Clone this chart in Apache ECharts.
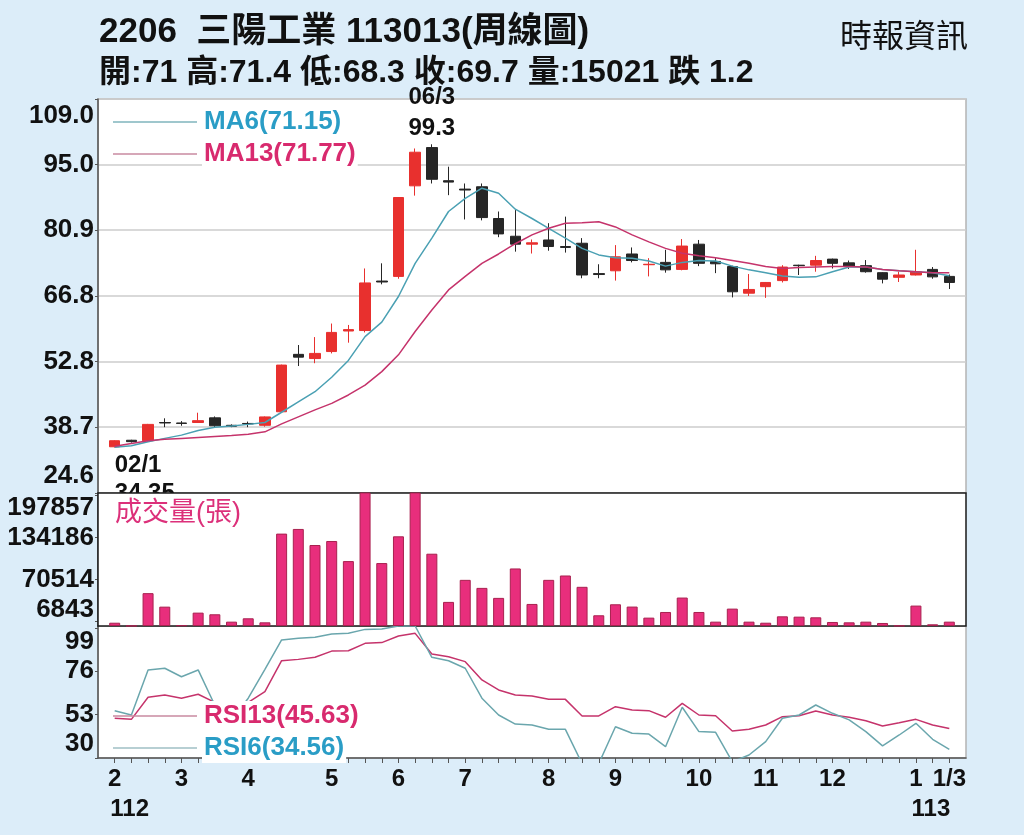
<!DOCTYPE html>
<html lang="zh-Hant">
<head>
    <meta charset="UTF-8">
    <title>2206 三陽工業 周線圖</title>
    <script src="https://cdn.jsdelivr.net/npm/echarts@6/dist/echarts.min.js"></script>
    <style>
        body, html {
            margin: 0;
            padding: 0;
            width: 100%;
            height: 100%;
            background: #dcedf9;
        }
        #main {
            width: 1024px;
            height: 835px;
        }
    </style>
</head>
<body>
<div id="main"></div>
<script>

    // 週別 (民國年/月/週)
    let weeks = [
        '112/02/1', '112/02/2', '112/02/3', '112/02/4',
        '112/03/1', '112/03/2', '112/03/3', '112/03/4',
        '112/04/1', '112/04/2', '112/04/3', '112/04/4', '112/04/5',
        '112/05/1', '112/05/2', '112/05/3', '112/05/4',
        '112/06/1', '112/06/2', '112/06/3', '112/06/4',
        '112/07/1', '112/07/2', '112/07/3', '112/07/4', '112/07/5',
        '112/08/1', '112/08/2', '112/08/3', '112/08/4',
        '112/09/1', '112/09/2', '112/09/3', '112/09/4', '112/09/5',
        '112/10/1', '112/10/2', '112/10/3', '112/10/4',
        '112/11/1', '112/11/2', '112/11/3', '112/11/4',
        '112/12/1', '112/12/2', '112/12/3', '112/12/4', '112/12/5',
        '113/01/1', '113/01/2', '113/01/3'
    ];

    // K線 開/收/低/高
    let opens = [34.5, 35.9, 35.8, 39.7, 39.6, 39.7, 40.7, 39.1, 39.5, 39.1,
        42.0, 54.3, 53.4, 54.9, 59.3, 59.4, 70.0, 71.0, 90.4, 98.6,
        91.5, 89.7, 90.2, 83.4, 79.6, 77.9, 78.8, 77.4, 78.1, 71.6,
        72.2, 75.8, 73.5, 74.0, 72.5, 77.9, 74.2, 73.1, 67.4, 68.8,
        70.1, 73.4, 73.4, 74.7, 73.9, 73.3, 71.8, 70.8, 71.3, 72.5, 71.0];
    let closes = [35.8, 35.6, 39.3, 39.6, 39.5, 40.1, 39.0, 38.9, 39.4, 40.9,
        52.0, 53.7, 54.5, 59.0, 59.6, 69.6, 69.8, 87.9, 97.6, 91.8,
        91.2, 89.5, 83.6, 80.1, 77.9, 78.2, 77.4, 77.2, 71.3, 71.4,
        75.2, 74.4, 73.6, 72.4, 77.5, 73.8, 73.7, 67.7, 68.2, 69.7,
        73.0, 73.3, 74.4, 73.8, 73.1, 72.0, 70.4, 71.3, 72.0, 70.9, 69.7];
    let lows = [34.35, 35.4, 35.6, 38.7, 39.0, 39.6, 38.6, 38.7, 38.7, 38.8,
        41.9, 51.8, 52.4, 54.5, 56.8, 59.0, 69.3, 70.5, 88.3, 90.9,
        88.4, 83.2, 83.0, 79.4, 76.3, 75.9, 76.5, 76.1, 70.6, 70.6,
        70.1, 74.0, 71.0, 71.8, 72.3, 73.2, 71.7, 66.5, 66.8, 66.4,
        69.7, 71.3, 72.0, 72.7, 72.6, 71.8, 69.5, 69.8, 71.2, 70.5, 68.3];
    let highs = [35.9, 36.0, 39.4, 40.6, 40.0, 41.8, 41.0, 39.3, 39.9, 41.0,
        52.1, 56.3, 58.0, 60.9, 60.6, 72.7, 73.8, 88.0, 98.4, 99.3,
        94.5, 90.9, 90.9, 84.9, 85.2, 78.9, 82.4, 83.8, 79.2, 73.6,
        77.7, 77.2, 74.9, 76.7, 79.0, 78.8, 74.9, 73.3, 71.5, 69.8,
        73.4, 73.5, 75.4, 74.8, 74.4, 74.5, 71.9, 72.0, 76.7, 73.0, 71.4];

    // 均線
    let ma6 = [34.4, 34.7, 35.6, 36.3, 37.0, 38.0, 38.7, 38.95, 39.3, 39.7,
        41.9, 44.1, 46.3, 49.4, 53.0, 58.1, 61.2, 66.7, 73.8, 79.2,
        84.9, 87.7, 89.9, 88.8, 85.4, 83.4, 81.3, 79.2, 77.0, 75.6,
        75.0, 74.9, 74.3, 73.2, 74.0, 74.4, 74.3, 73.2, 72.4, 71.8,
        71.1, 70.8, 70.9, 72.0, 73.0, 73.0, 72.5, 72.2, 72.0, 71.8, 71.15];
    let ma13 = [34.6, 35.2, 35.8, 36.1, 36.3, 36.5, 36.7, 36.9, 37.2, 37.7,
        39.4, 40.9, 42.4, 43.8, 45.6, 47.7, 50.6, 54.2, 59.2, 63.8,
        68.1, 71.0, 73.8, 75.8, 78.0, 79.9, 81.3, 82.4, 82.5, 82.7,
        81.6, 79.9, 78.4, 77.0, 75.95, 75.4, 75.0, 74.4, 73.8, 73.1,
        72.7, 72.9, 73.0, 73.1, 73.1, 73.0, 72.5, 72.2, 72.0, 71.8, 71.77];

    // 成交量(張)
    let volumes = [5000, 300, 49900, 29400, 1000, 20300, 17800, 6600, 11700, 5600,
        140300, 147400, 123000, 129100, 98600, 260000, 95600, 136200, 280000, 109800,
        36600, 70100, 57900, 42700, 87400, 33500, 70100, 76700, 59500, 16300,
        33000, 29500, 12700, 21300, 43200, 21300, 6600, 26400, 6600, 5000,
        14700, 14200, 13200, 6100, 5600, 6600, 4600, 500, 31000, 2600, 6600];

    // RSI
    let rsi6 = [55.1, 52.8, 76.7, 77.6, 73.1, 76.7, 58.0, 50.0, 61.7, 77.0,
        92.6, 93.5, 94.0, 95.8, 96.1, 98.2, 98.4, 100, 100, 83.4,
        81.6, 77.6, 61.7, 52.8, 48.0, 47.5, 45.2, 45.2, 27.0, 27.0,
        46.6, 43.1, 42.7, 36.0, 56.9, 44.0, 43.6, 28.0, 31.6, 38.7,
        51.1, 52.8, 58.1, 53.7, 50.2, 44.0, 36.4, 42.2, 48.4, 39.9, 34.56];
    let rsi13 = [51.1, 50.5, 62.2, 63.4, 61.7, 63.8, 59.5, 55.0, 59.5, 65.2,
        81.6, 82.3, 83.4, 86.7, 86.9, 90.8, 91.2, 94.7, 96.1, 85.2,
        83.7, 81.1, 71.4, 66.1, 63.4, 62.9, 61.1, 61.1, 52.3, 52.3,
        57.2, 55.5, 55.1, 51.6, 59.0, 52.8, 52.4, 44.3, 45.2, 47.5,
        51.9, 52.4, 54.9, 52.8, 51.6, 49.8, 47.0, 48.7, 50.5, 47.5, 45.63];

    // 座標刻度
    let priceTicks = [24.6, 38.7, 52.8, 66.8, 80.9, 95.0, 109.0];
    let volumeTicks = [6843, 70514, 134186, 197857];
    let rsiTicks = [30, 53, 76, 99];

    let FONT = "'Liberation Sans', Arial, 'Noto Sans CJK TC', sans-serif";
    let RED = '#e8302e';
    let BLACK = '#262626';
    let BLUE_TXT = '#2a9dc6';
    let PINK_TXT = '#d82a6e';

    // 前後各留一格空白
    let categories = [''].concat(weeks, ['']);

    function pairs(arr) {
        return arr.map(function (v, i) {
            return [i + 1, v];
        });
    }

    let candleData = weeks.map(function (w, i) {
        return [i + 1, opens[i], closes[i], lows[i], highs[i]];
    });

    // 最高、最低點
    let hiIdx = 0, loIdx = 0;
    for (let i = 0; i < weeks.length; i++) {
        if (highs[i] > highs[hiIdx]) hiIdx = i;
        if (lows[i] < lows[loIdx]) loIdx = i;
    }

    function near(a, b) {
        return Math.abs(a - b) < 1e-6;
    }

    // 上下兩端的刻度文字往內縮
    function edgeLabel(ticks, digits) {
        return function (v) {
            let s = v.toFixed(digits);
            if (near(v, ticks[ticks.length - 1])) return ' \n' + s;
            if (near(v, ticks[0])) return s + '\n ';
            return s;
        };
    }

    function yLabel(ticks, digits, lh) {
        return {
            customValues: ticks,
            formatter: edgeLabel(ticks, digits),
            fontSize: 26,
            fontWeight: 'bold',
            fontFamily: FONT,
            color: '#111',
            lineHeight: lh,
            margin: 4,
            hideOverlap: false
        };
    }

    function last(arr) {
        return arr[arr.length - 1];
    }

    // 月份：每月第一週 + 最後一週
    let monthLabelShow = function (idx, value) {
        return value !== '' && (/\/1$/.test(value) || value === weeks[weeks.length - 1]);
    };
    // 年份：第一週與跨年第一週
    let yearLabelShow = function (idx, value) {
        return value === weeks[0] || value === '113/01/1';
    };

    function legendBlock(top, items, values) {
        return {
            orient: 'vertical',
            left: 108, top: top,
            icon: 'rect',
            itemWidth: 84, itemHeight: 1.5, itemGap: 2,
            selectedMode: false,
            data: items,
            formatter: function (name) {
                return name + '(' + values[name].toFixed(2) + ')';
            },
            textStyle: {fontSize: 26, fontWeight: 'bold', fontFamily: FONT, lineHeight: 26,
                backgroundColor: '#fff', padding: [2, 2]}
        };
    }

    let xText = {fontSize: 24, fontWeight: 'bold', fontFamily: FONT, color: '#111'};

    let options = {
        backgroundColor: '#dcedf9',
        animation: false,
        title: [
            {
                text: '2206  三陽工業 113013(周線圖)',
                left: 99, top: 15, padding: 0,
                textStyle: {fontSize: 35, fontWeight: 'bold', color: '#111', fontFamily: FONT}
            },
            {
                text: '開:71 高:71.4 低:68.3 收:69.7 量:15021 跌 1.2',
                left: 99, top: 57, padding: 0,
                textStyle: {fontSize: 32, fontWeight: 'bold', color: '#111', fontFamily: FONT}
            },
            {
                text: '時報資訊',
                right: 56, top: 22, padding: 0,
                textStyle: {fontSize: 32, fontWeight: 'normal', color: '#111', fontFamily: FONT}
            },
            {
                text: '成交量(張)',
                left: 115, top: 500, padding: 0,
                textStyle: {fontSize: 27, fontWeight: 'normal', color: '#dc307a', fontFamily: FONT}
            }
        ],
        legend: [
            legendBlock(102, [
                {name: 'MA6', textStyle: {color: BLUE_TXT}},
                {name: 'MA13', textStyle: {color: PINK_TXT}}
            ], {MA6: last(ma6), MA13: last(ma13)}),
            legendBlock(696, [
                {name: 'RSI13', textStyle: {color: PINK_TXT}},
                {name: 'RSI6', textStyle: {color: BLUE_TXT}}
            ], {RSI13: last(rsi13), RSI6: last(rsi6)})
        ],
        grid: [
            {left: 98, right: 58, top: 99, height: 394, show: true, backgroundColor: '#fff',
                borderColor: '#b4b4b4', borderWidth: 1.5},
            {left: 98, right: 58, top: 493, height: 133, show: true, backgroundColor: '#fff',
                borderColor: '#1a1a1a', borderWidth: 1.5, z: 3},
            {left: 98, right: 58, top: 626, height: 132, show: true, backgroundColor: '#fff',
                borderColor: '#b4b4b4', borderWidth: 1.5}
        ],
        xAxis: [
            {type: 'category', gridIndex: 0, data: categories, boundaryGap: false, show: false},
            {type: 'category', gridIndex: 1, data: categories, boundaryGap: false, show: false},
            {
                type: 'category', gridIndex: 2, data: categories, boundaryGap: false,
                axisLine: {lineStyle: {color: '#555', width: 1.5}},
                axisTick: {interval: function (idx, value) { return value !== ''; }, length: 5,
                    lineStyle: {color: '#555'}},
                axisLabel: Object.assign({
                    interval: monthLabelShow,
                    hideOverlap: false,
                    showMinLabel: true,
                    showMaxLabel: true,
                    formatter: function (value) {
                        let parts = value.split('/');
                        let month = String(parseInt(parts[1], 10));
                        if (value === weeks[weeks.length - 1]) return month + '/' + parts[2];
                        return month;
                    },
                    margin: 9
                }, xText),
                splitLine: {show: false}
            },
            {
                type: 'category', gridIndex: 2, data: categories, boundaryGap: false,
                position: 'bottom',
                axisLine: {show: false},
                axisTick: {show: false},
                axisLabel: {
                    interval: yearLabelShow,
                    hideOverlap: false,
                    formatter: function (value) {
                        return '{y|' + value.split('/')[0] + '}';
                    },
                    margin: 39,
                    rich: {
                        y: Object.assign({padding: [0, 0, 0, 30]}, xText)
                    }
                },
                splitLine: {show: false}
            }
        ],
        yAxis: [
            {
                type: 'value', gridIndex: 0,
                min: priceTicks[0], max: priceTicks[priceTicks.length - 1],
                axisLine: {show: true, lineStyle: {color: '#555', width: 1.5}},
                axisTick: {show: true, customValues: priceTicks, length: 3, lineStyle: {color: '#555'}},
                axisLabel: yLabel(priceTicks, 1, 34),
                splitLine: {show: true, lineStyle: {color: '#cccccc', width: 1.5}}
            },
            {
                type: 'value', gridIndex: 1, min: 0, max: 202000,
                axisLine: {show: true, lineStyle: {color: '#555', width: 1.5}},
                axisTick: {show: true, customValues: volumeTicks, length: 3, lineStyle: {color: '#555'}},
                axisLabel: yLabel(volumeTicks, 0, 24),
                splitLine: {show: false}
            },
            {
                type: 'value', gridIndex: 2, min: 30, max: 100,
                axisLine: {show: true, lineStyle: {color: '#555', width: 1.5}},
                axisTick: {show: true, customValues: rsiTicks, length: 3, lineStyle: {color: '#555'}},
                axisLabel: yLabel(rsiTicks, 0, 28),
                splitLine: {show: false}
            }
        ],
        series: [
            {
                name: 'K',
                type: 'candlestick',
                xAxisIndex: 0, yAxisIndex: 0,
                data: candleData,
                encode: {x: 0, y: [1, 2, 3, 4]},
                barWidth: 11,
                itemStyle: {
                    color: RED, color0: BLACK,
                    borderColor: RED, borderColor0: BLACK,
                    borderWidth: 1
                },
                markPoint: {
                    z: 2,
                    symbol: 'circle',
                    symbolSize: 1,
                    itemStyle: {color: 'rgba(0,0,0,0)'},
                    data: [
                        {
                            coord: [hiIdx + 1, highs[hiIdx]],
                            label: {
                                show: true, position: 'top', distance: 0,
                                formatter: weeks[hiIdx].slice(4) + '\n' + highs[hiIdx],
                                fontSize: 24, fontWeight: 'bold', fontFamily: FONT, color: '#111',
                                lineHeight: 31
                            }
                        },
                        {
                            coord: [loIdx + 1, lows[loIdx]],
                            label: {
                                show: true, position: 'bottom', distance: 3, align: 'left',
                                formatter: weeks[loIdx].slice(4) + '\n' + lows[loIdx],
                                fontSize: 24, fontWeight: 'bold', fontFamily: FONT, color: '#111',
                                lineHeight: 28
                            }
                        }
                    ]
                }
            },
            {
                name: 'MA6', type: 'line', xAxisIndex: 0, yAxisIndex: 0,
                data: pairs(ma6), symbol: 'none',
                lineStyle: {color: '#4aa0b3', width: 1.5}, itemStyle: {color: '#7fb4bd'}
            },
            {
                name: 'MA13', type: 'line', xAxisIndex: 0, yAxisIndex: 0,
                data: pairs(ma13), symbol: 'none',
                lineStyle: {color: '#c5336b', width: 1.5}, itemStyle: {color: '#c98aa0'}
            },
            {
                name: '成交量', type: 'bar', xAxisIndex: 1, yAxisIndex: 1,
                data: pairs(volumes), barWidth: 11, z: 4,
                itemStyle: {color: '#e82e7c', borderColor: '#a8214f', borderWidth: 1}
            },
            {
                name: 'RSI13', type: 'line', xAxisIndex: 2, yAxisIndex: 2,
                data: pairs(rsi13), symbol: 'none',
                lineStyle: {color: '#c5336b', width: 1.5}, itemStyle: {color: '#c98aa0'}
            },
            {
                name: 'RSI6', type: 'line', xAxisIndex: 2, yAxisIndex: 2,
                data: pairs(rsi6), symbol: 'none',
                lineStyle: {color: '#6aa6ad', width: 1.5}, itemStyle: {color: '#9fbfc4'}
            }
        ]
    };

    let chart = echarts.init(document.getElementById('main'));
    chart.setOption(options);

    window.addEventListener('resize', function () {
        chart.resize();
    });

</script>
</body>
</html>
